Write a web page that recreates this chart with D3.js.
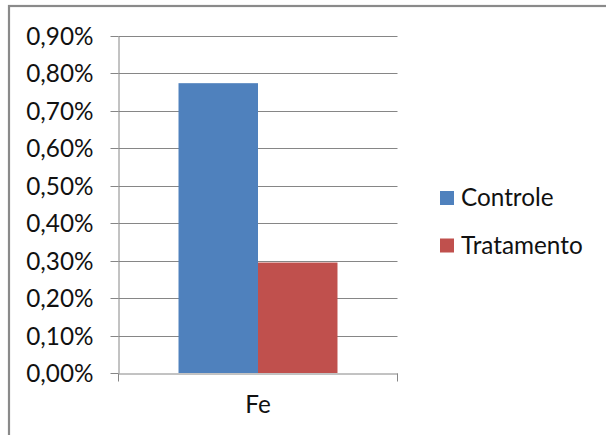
<!DOCTYPE html>
<html>
<head>
<meta charset="utf-8">
<script src="https://cdn.jsdelivr.net/npm/d3@7/dist/d3.min.js"></script>
<style>
  html, body { margin: 0; padding: 0; background: #fff; }
  svg { display: block; }
  text { font-family: Lato, "Liberation Sans", sans-serif; fill: #111; }
</style>
</head>
<body>
<svg id="chart" width="606" height="435"></svg>
<script>
const categories = ["Fe"];
const seriesNames = ["Controle", "Tratamento"];
const controleValues = [0.00774];
const tratamentoValues = [0.00295];
const yTicks = [0, 0.001, 0.002, 0.003, 0.004, 0.005, 0.006, 0.007, 0.008, 0.009];
const seriesColors = ["#4F81BD", "#C0504D"];

const seriesValues = [controleValues, tratamentoValues];
const svg = d3.select("#chart");
const fontSize = 24.3;
const gridColor = "#868686";

// outer chart border
svg.append("rect")
  .attr("x", 9).attr("y", 6)
  .attr("width", 620).attr("height", 460)
  .attr("fill", "#fff")
  .attr("stroke", "#8a8a8a").attr("stroke-width", 2.2);

const plotLeft = 118.5, plotRight = 397.5, plotTop = 36, plotBottom = 373;

const y = d3.scaleLinear().domain([0, 0.009]).range([plotBottom, plotTop]);
const x0 = d3.scaleBand().domain(categories).range([plotLeft, plotRight]).padding(0);
const x1 = d3.scaleBand().domain(seriesNames).range([0, x0.bandwidth()])
  .paddingInner(0).paddingOuter(0.755);

const locale = d3.formatLocale({decimal: ",", thousands: ".", grouping: [3], currency: ["", ""]});
const fmt = locale.format(".2%");
const py = d => Math.round(y(d)) + 0.5;

// gridlines
svg.append("g").selectAll("line").data(yTicks.filter(d => d > 0)).join("line")
  .attr("x1", plotLeft).attr("x2", plotRight)
  .attr("y1", py).attr("y2", py)
  .attr("stroke", gridColor).attr("stroke-width", 1);

// bars
const groups = svg.append("g").selectAll("g").data(categories).join("g")
  .attr("transform", d => `translate(${x0(d)},0)`);
groups.selectAll("rect")
  .data((d, i) => seriesNames.map((s, k) => ({s, v: seriesValues[k][i], k})))
  .join("rect")
  .attr("x", d => x1(d.s))
  .attr("width", x1.bandwidth())
  .attr("y", d => y(d.v))
  .attr("height", d => y(0) - y(d.v))
  .attr("fill", d => seriesColors[d.k]);

// y axis
const yAxis = svg.append("g")
  .attr("transform", `translate(${plotLeft},0)`)
  .call(d3.axisLeft(y).tickValues(yTicks).tickFormat(fmt)
    .tickSizeInner(8).tickSizeOuter(0).tickPadding(17));
yAxis.select(".domain").attr("stroke", gridColor);
yAxis.selectAll(".tick line").attr("stroke", gridColor);
yAxis.selectAll(".tick").attr("transform", d => `translate(0,${py(d)})`);
yAxis.selectAll(".tick text")
  .style("font-family", "Lato, 'Liberation Sans', sans-serif")
  .style("font-size", fontSize + "px").attr("fill", "#111").attr("dy", "0.34em");

// x axis
const xAxis = svg.append("g")
  .attr("transform", `translate(0,${py(0)})`)
  .call(d3.axisBottom(x0).tickSizeInner(0).tickSizeOuter(0).tickPadding(22));
xAxis.select(".domain").attr("stroke", gridColor);
xAxis.selectAll(".tick text")
  .style("font-family", "Lato, 'Liberation Sans', sans-serif")
  .style("font-size", fontSize + "px").attr("fill", "#111").attr("dy", "0.71em");
// category boundary ticks
const edges = [x0.range()[0]].concat(categories.map(c => x0(c) + x0.bandwidth()));
xAxis.selectAll("line.edge").data(edges).join("line").attr("class", "edge")
  .attr("x1", d => d).attr("x2", d => d).attr("y1", 0).attr("y2", 8)
  .attr("stroke", gridColor);

// legend
const legend = svg.append("g").attr("transform", "translate(440,191)");
const li = legend.selectAll("g").data(seriesNames).join("g")
  .attr("transform", (d, i) => `translate(0,${i * 47.5})`);
li.append("rect").attr("width", 14).attr("height", 14)
  .attr("fill", (d, i) => seriesColors[i]);
li.append("text").attr("x", 21).attr("y", 15)
  .style("font-size", fontSize + "px").text(d => d);
</script>
</body>
</html>
